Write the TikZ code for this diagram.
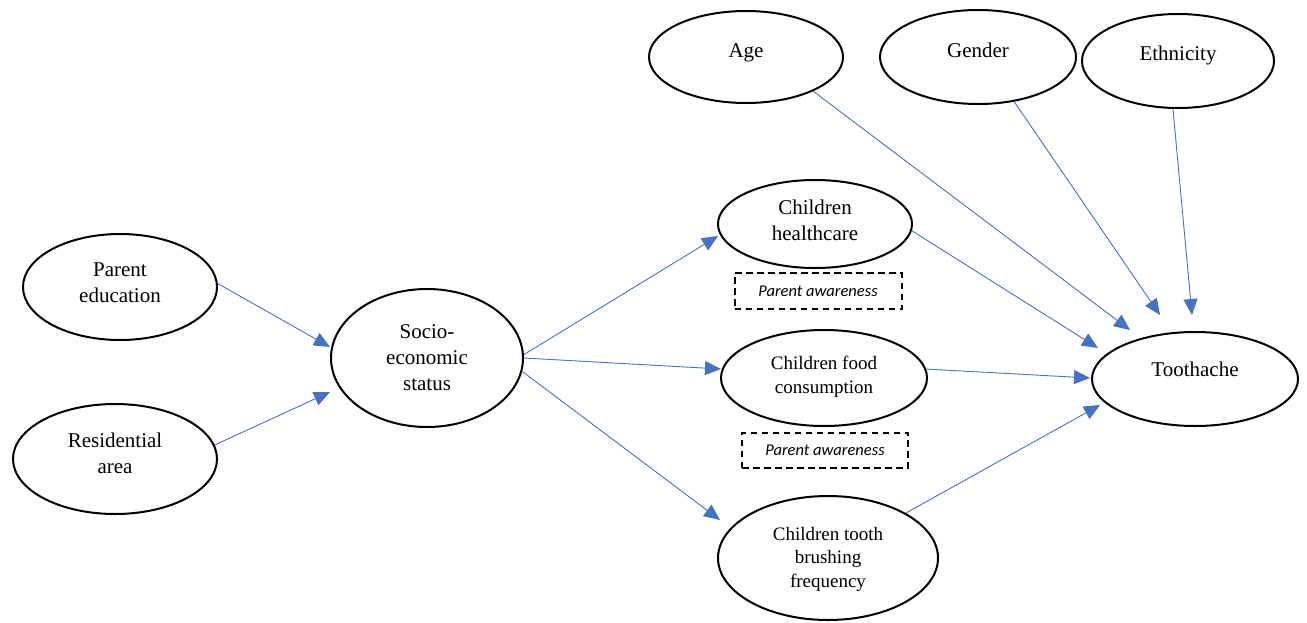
\documentclass[tikz,border=0pt]{standalone}
\usepackage{fontspec}
\setmainfont{Liberation Serif}
\newfontfamily\calib{Carlito}
\usetikzlibrary{shapes.geometric,arrows.meta,calc}
\definecolor{arrblue}{HTML}{4472C4}
\tikzset{
  ell/.style={ellipse, draw=black, line width=2pt, inner sep=0pt},
  lbl/.style={inner sep=0pt, align=center, font=\fontsize{21}{26}\selectfont},
  slbl/.style={inner sep=0pt, align=center, font=\fontsize{19}{24}\selectfont},
  dbox/.style={draw=black, line width=2pt, dash pattern=on 6.5pt off 4.5pt, inner sep=0pt,
    font=\calib\itshape\fontsize{16.5}{20}\selectfont},
  arr/.style={draw=arrblue, line width=0.9pt, -{Triangle[length=16pt,width=14pt]}, arrblue}
}
\begin{document}
\begin{tikzpicture}[x=1pt,y=-1pt]
\useasboundingbox (0,0) rectangle (1307,622);
% shapes
\node[ell, minimum width=194pt, minimum height=92pt] (age) at (746,57) {};
\node[ell, minimum width=196pt, minimum height=94pt] (gen) at (978,57) {};
\node[ell, minimum width=192pt, minimum height=94pt] (eth) at (1178,61) {};
\node[ell, minimum width=194pt, minimum height=106pt] (pe) at (120,287) {};
\node[ell, minimum width=204pt, minimum height=110pt] (ra) at (115,459) {};
\node[ell, minimum width=192pt, minimum height=138pt] (ses) at (427,358) {};
\node[ell, minimum width=194pt, minimum height=88pt] (hc) at (815,224) {};
\node[ell, minimum width=206pt, minimum height=96pt] (food) at (824,378) {};
\node[ell, minimum width=220pt, minimum height=124pt] (br) at (828,558) {};
\node[ell, minimum width=206pt, minimum height=94pt] (th) at (1195,379) {};
% texts
\node[lbl] (ageT) at ($(age.center)+(0,-4)$) {Age};
\node[lbl] (genT) at ($(gen.center)+(0,-7)$) {Gender};
\node[lbl] (ethT) at ($(eth.center)+(0,-6)$) {Ethnicity};
\node[lbl] (peT) at ($(pe.center)+(0,-4)$) {Parent\\education};
\node[lbl] (raT) at ($(ra.center)+(0,-6)$) {Residential\\area};
\node[lbl] (sesT) at ($(ses.center)+(0,0)$) {Socio-\\economic\\status};
\node[lbl] (hcT) at ($(hc.center)+(0,-4)$) {Children\\healthcare};
\node[slbl] (foodT) at ($(food.center)+(0,-1)$) {Children food\\consumption};
\node[slbl, font=\fontsize{19}{23.5}\selectfont] (brT) at ($(br.center)+(0,1)$) {Children tooth\\brushing\\frequency};
\node[lbl] (thT) at ($(th.center)+(0,-10)$) {Toothache};
\node[dbox, minimum width=167pt, minimum height=36pt] (pa1) at (818,291) {Parent awareness};
\node[dbox, minimum width=166pt, minimum height=35pt] (pa2) at (825,450) {Parent awareness};
% connectors
\draw[arr] (pe.2) -- ($(ses.center)+(-97,-11)$);
\draw[arr] (ra.8) -- ($(ses.center)+(-97,34)$);
\draw[arr] (ses.2) -- ($(hc.center)+(-97,12)$);
\draw[arr] (ses.0) -- ($(food.center)+(-103,-9)$);
\draw[arr] (ses.-8) -- ($(br.center)+(-108,-38)$);
\draw[arr] (hc.-4) -- ($(th.center)+(-97,-31)$);
\draw[arr] (food.5) -- ($(th.center)+(-105,-1)$);
\draw[arr] (br.30) -- ($(th.center)+(-95,26)$);
\draw[arr] (age.-27) -- ($(th.center)+(-65,-49)$);
\draw[arr] (gen.-51) -- ($(th.center)+(-35,-64)$);
\draw[arr] (eth.264) -- ($(th.center)+(-3,-64)$);
\end{tikzpicture}
\end{document}
